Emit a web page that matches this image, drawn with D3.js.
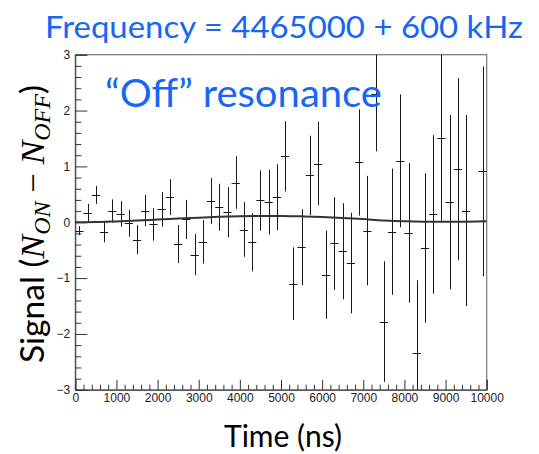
<!DOCTYPE html>
<html>
<head>
<meta charset="utf-8">
<script src="https://cdn.jsdelivr.net/npm/d3@7"></script>
<style>
  body { margin: 0; background: #fff; }
  svg { display: block; }
</style>
</head>
<body>
<svg id="chart" width="539" height="454"></svg>
<script>
// Bin centres (ns), 200 ns bins
const times = [100, 300, 500, 700, 900, 1100, 1300, 1500, 1700, 1900,
               2100, 2300, 2500, 2700, 2900, 3100, 3300, 3500, 3700, 3900,
               4100, 4300, 4500, 4700, 4900, 5100, 5300, 5500, 5700, 5900,
               6100, 6300, 6500, 6700, 6900, 7100, 7300, 7500, 7700, 7900,
               8100, 8300, 8500, 8700, 8900, 9100, 9300, 9500, 9700, 9900];
const binWidth = 200;

// Signal N_ON - N_OFF per bin and its uncertainty (null = no entry in range)
const signal = [-0.15, 0.17, 0.49, -0.17, 0.20, 0.15, -0.02, -0.31, 0.21, -0.04,
                0.23, 0.45, -0.39, 0.05, -0.58, -0.35, 0.38, 0.27, 0.18, 0.71,
                -0.13, -0.36, 0.39, 0.36, 0.45, 1.18, -1.10, -0.45, 0.84, 1.05,
                -0.94, -0.38, -0.52, -0.73, 1.07, -0.15, 2.30, -1.78, -0.17, 1.10,
                -0.19, -2.34, -0.46, 0.14, 1.51, 0.36, 0.95, 0.21, null, 0.91];
const signalErr = [0.08, 0.16, 0.16, 0.19, 0.21, 0.23, 0.24, 0.26, 0.28, 0.29,
                   0.31, 0.32, 0.34, 0.35, 0.37, 0.39, 0.41, 0.42, 0.45, 0.47,
                   0.49, 0.52, 0.54, 0.58, 0.59, 0.63, 0.65, 0.68, 0.71, 0.75,
                   0.79, 0.83, 0.86, 0.90, 0.95, 0.98, 1.03, 1.08, 1.13, 1.19,
                   1.25, 1.30, 1.34, 1.42, 1.51, 1.56, 1.63, 1.71, null, 1.88];

// Fitted curve
const fitTime = [0, 500, 1000, 1500, 2000, 2500, 3000, 3500, 4000, 4500, 5000,
                 5500, 6000, 6500, 7000, 7500, 8000, 8500, 9000, 9500, 10000];
const fitValue = [0.0, 0.003, 0.015, 0.03, 0.048, 0.065, 0.082, 0.097, 0.108, 0.113, 0.113,
                  0.106, 0.095, 0.078, 0.056, 0.032, 0.016, 0.01, 0.009, 0.011, 0.018];

// Axis ticks
const xTicks = [0, 1000, 2000, 3000, 4000, 5000, 6000, 7000, 8000, 9000, 10000];
const yTicks = [-3, -2, -1, 0, 1, 2, 3];
const xMinorStep = 200;
const yMinorStep = 0.2;

const titleText = "Frequency = 4465000 + 600 kHz";
const noteText = "\u201COff\u201D resonance";
const xLabel = "Time (ns)";

const svg = d3.select("#chart");
const frame = { left: 75.3, right: 486.7, top: 54.7, bottom: 389.8 };

const x = d3.scaleLinear().domain([0, 10000]).range([frame.left, frame.right]);
const y = d3.scaleLinear().domain([-3, 3]).range([frame.bottom, frame.top]);

const blue = "#1766f5";
const labelFont = "Lato, 'Open Sans', sans-serif";
const tickFont = "'Liberation Sans', Arial, sans-serif";

// plot frame
svg.append("rect")
  .attr("x", frame.left).attr("y", frame.top)
  .attr("width", frame.right - frame.left).attr("height", frame.bottom - frame.top)
  .attr("fill", "none").attr("stroke", "#777").attr("stroke-width", 1.2);

// minor ticks
const xMinor = d3.range(0, 10000 + 1, xMinorStep).filter(v => v % 1000 !== 0);
const yMinor = d3.range(-3, 3.001, yMinorStep).map(v => +v.toFixed(1)).filter(v => Math.abs(v - Math.round(v)) > 1e-6);

const gxMinor = svg.append("g").attr("transform", `translate(0,${frame.bottom})`)
  .call(d3.axisBottom(x).tickValues(xMinor).tickSize(-5).tickFormat(""));
const gyMinor = svg.append("g").attr("transform", `translate(${frame.left},0)`)
  .call(d3.axisLeft(y).tickValues(yMinor).tickSize(-6).tickFormat(""));
[gxMinor, gyMinor].forEach(g => {
  g.select(".domain").remove();
  g.selectAll("line").attr("stroke", "#333");
});

// major ticks and labels
const gx = svg.append("g").attr("transform", `translate(0,${frame.bottom})`)
  .call(d3.axisBottom(x).tickValues(xTicks).tickSize(-10).tickPadding(4).tickFormat(d3.format("d")));
const gy = svg.append("g").attr("transform", `translate(${frame.left},0)`)
  .call(d3.axisLeft(y).tickValues(yTicks).tickSize(-12).tickPadding(5).tickFormat(d3.format("d")));
[gx, gy].forEach(g => {
  g.select(".domain").attr("stroke", "#444");
  g.selectAll("line").attr("stroke", "#333");
  g.selectAll("text").attr("fill", "#222")
    .style("font-family", tickFont).style("font-size", "12px");
});

// data
svg.append("clipPath").attr("id", "plotClip")
  .append("rect")
  .attr("x", frame.left).attr("y", frame.top)
  .attr("width", frame.right - frame.left).attr("height", frame.bottom - frame.top);

const plot = svg.append("g").attr("clip-path", "url(#plotClip)");

const points = times.map((t, i) => ({ t, v: signal[i], e: signalErr[i] }))
  .filter(d => d.v !== null);

const bars = plot.append("g").attr("stroke", "#1a1a1a").attr("stroke-width", 1);
bars.selectAll("line.v").data(points).join("line").attr("class", "v")
  .attr("x1", d => Math.round(x(d.t)) + 0.5).attr("x2", d => Math.round(x(d.t)) + 0.5)
  .attr("y1", d => y(d.v - d.e)).attr("y2", d => y(d.v + d.e));
bars.selectAll("line.h").data(points).join("line").attr("class", "h")
  .attr("x1", d => x(d.t - binWidth / 2)).attr("x2", d => x(d.t + binWidth / 2))
  .attr("y1", d => Math.round(y(d.v)) + 0.5).attr("y2", d => Math.round(y(d.v)) + 0.5);

plot.append("path")
  .datum(fitTime.map((t, i) => [t, fitValue[i]]))
  .attr("fill", "none").attr("stroke", "#333").attr("stroke-width", 2)
  .attr("d", d3.line().x(d => x(d[0])).y(d => y(d[1])).curve(d3.curveMonotoneX));

// titles
svg.append("text")
  .attr("x", 45).attr("y", 38)
  .attr("textLength", 478).attr("lengthAdjust", "spacingAndGlyphs")
  .attr("fill", blue).style("font-family", labelFont).style("font-size", "31px")
  .text(titleText);

svg.append("text")
  .attr("x", 105).attr("y", 107)
  .attr("textLength", 277).attr("lengthAdjust", "spacingAndGlyphs")
  .attr("fill", blue).style("font-family", labelFont).style("font-size", "39px")
  .text(noteText);

svg.append("text")
  .attr("x", 224).attr("y", 447)
  .attr("textLength", 118).attr("lengthAdjust", "spacingAndGlyphs")
  .attr("fill", "#000").style("font-family", labelFont).style("font-size", "30px")
  .text(xLabel);

// y-axis label: Signal (N_ON − N_OFF)
const ylab = svg.append("text")
  .attr("transform", "translate(44,224) rotate(-90)")
  .attr("text-anchor", "middle")
  .attr("textLength", 278).attr("lengthAdjust", "spacingAndGlyphs")
  .attr("fill", "#000")
  .style("font-family", labelFont).style("font-size", "32px");
const mathFont = "'Liberation Serif', 'DejaVu Serif', serif";
ylab.append("tspan").text("Signal (");
ylab.append("tspan").style("font-family", mathFont).style("font-style", "italic").style("font-size", "34px").text("N");
ylab.append("tspan").attr("dy", 6).style("font-family", mathFont).style("font-style", "italic").style("font-size", "23px").text("ON");
ylab.append("tspan").attr("dy", -6).style("font-family", mathFont).style("font-size", "33px").text(" \u2212 ");
ylab.append("tspan").style("font-family", mathFont).style("font-style", "italic").style("font-size", "34px").text("N");
ylab.append("tspan").attr("dy", 6).style("font-family", mathFont).style("font-style", "italic").style("font-size", "23px").text("OFF");
ylab.append("tspan").attr("dy", -6).text(")");
</script>
</body>
</html>
